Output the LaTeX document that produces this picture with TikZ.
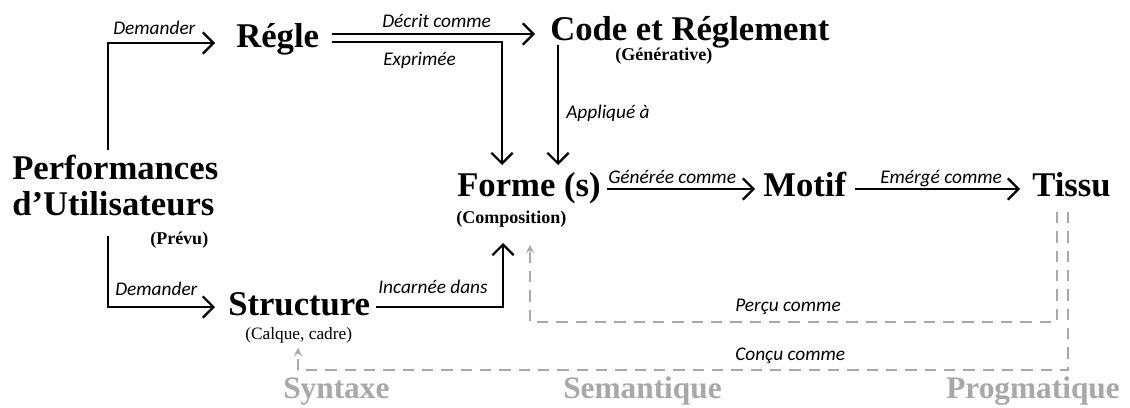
\documentclass[tikz,border=0pt]{standalone}
\usepackage{fontspec}
\setmainfont{Liberation Serif}
\newfontfamily\labfont{Carlito}
\usetikzlibrary{arrows.meta}
\definecolor{gr}{HTML}{A8A8A8}
\begin{document}
\begin{tikzpicture}[x=0.75pt,y=-0.75pt,
 big/.style={font=\fontsize{26}{28}\selectfont\bfseries, inner sep=0pt, anchor=base west},
 small/.style={font=\fontsize{13.5}{15}\selectfont\bfseries, inner sep=0pt, anchor=base west},
 smallreg/.style={font=\fontsize{13}{15}\selectfont, inner sep=0pt, anchor=base west},
 lbl/.style={font=\labfont\itshape\fontsize{14.5}{16}\selectfont, inner sep=0pt, anchor=base west},
 greylbl/.style={font=\fontsize{23.5}{25}\selectfont\bfseries, text=gr, inner sep=0pt, anchor=base west},
 arr/.style={line width=1.7pt, -{Straight Barb[length=8pt,width=16pt,line width=1.7pt]}},
 dsh/.style={gr, line width=2pt, dash pattern=on 8.5pt off 6pt, -{Stealth[length=6pt,width=6pt]}}
]
\useasboundingbox (0,0) rectangle (1130,407);
\fill[white] (0,0) rectangle (1130,407);

% nodes
\node[big] (perf) at (12,179) {Performances};
\node[big] (util) at (12,215) {d’Utilisateurs};
\node[small] (prevu) at (150,244) {(Prévu)};
\node[big] (regle) at (236,47) {Régle};
\node[big] (code) at (550,40) {Code et Réglement};
\node[small] (gen) at (615,60) {(Générative)};
\node[big] (forme) at (457,196) {Forme (s)};
\node[small] (compo) at (456,223) {(Composition)};
\node[big] (motif) at (763,196) {Motif};
\node[big] (tissu) at (1032,196) {Tissu};
\node[big] (struct) at (228,315) {Structure};
\node[smallreg] (calque) at (245,339) {(Calque, cadre)};
\node[greylbl] (syn) at (283,398) {Syntaxe};
\node[greylbl] (sem) at (563,398) {Semantique};
\node[greylbl, anchor=base east] (prog) at (1120,398) {Progmatique};

% connector labels
\node[lbl] (l1) at (113,34) {Demander};
\node[lbl] (l2) at (115,295) {Demander};
\node[lbl] (l3) at (382,27) {Décrit comme};
\node[lbl] (l4) at (383,65) {Exprimée};
\node[lbl] (l5) at (566,118) {Appliqué à};
\node[lbl] (l6) at (608,183) {Générée comme};
\node[lbl] (l7) at (880,183) {Emérgé comme};
\node[lbl] (l8) at (378,293) {Incarnée dans};
\node[lbl] (l9) at (735,311) {Perçu comme};
\node[lbl] (l10) at (735,360) {Conçu comme};

% coordinates
\coordinate (pTop) at (108,150);
\coordinate (pBot) at (108,236);
\coordinate (rIn) at (215,43);
\coordinate (sIn) at (215,307);
\coordinate (rOut1) at (332,34);
\coordinate (rOut2) at (332,42);
\coordinate (cIn) at (535,34);
\coordinate (fIn1) at (502,165);
\coordinate (cOut) at (558,45);
\coordinate (fIn2) at (558,165);
\coordinate (fOut) at (607,189);
\coordinate (mIn) at (755,189);
\coordinate (mOut) at (855,189);
\coordinate (tIn) at (1020,189);
\coordinate (sOut) at (376,307);
\coordinate (fIn3) at (503,243);
\coordinate (tOut1) at (1057,212);
\coordinate (tOut2) at (1068,212);
\coordinate (fIn4) at (530,245);
\coordinate (sIn2) at (298,348);

% connectors
\draw[arr] (pTop) |- (rIn);
\draw[arr] (pBot) |- (sIn);
\draw[arr] (rOut1) -- (cIn);
\draw[arr] (rOut2) -| (fIn1);
\draw[arr] (cOut) -- (fIn2);
\draw[arr] (fOut) -- (mIn);
\draw[arr] (mOut) -- (tIn);
\draw[arr] (sOut) -| (fIn3);
\draw[dsh] (tOut1) -- (1057,322) -| (fIn4);
\draw[dsh] (tOut2) -- (1068,370) -| (sIn2);
\end{tikzpicture}
\end{document}
